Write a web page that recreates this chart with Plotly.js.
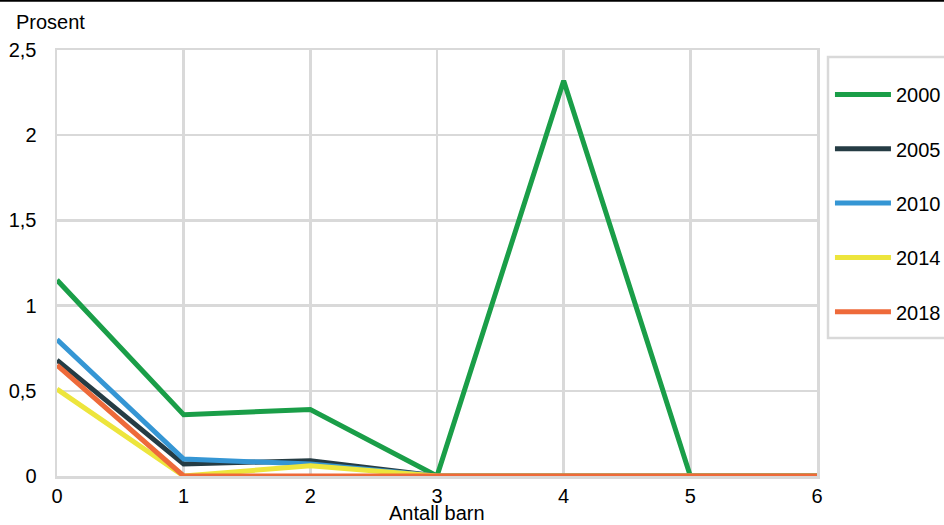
<!DOCTYPE html>
<html>
<head>
<meta charset="utf-8">
<script src="https://cdn.plot.ly/plotly-3.0.1.min.js"></script>
<style>html,body{margin:0;padding:0;background:#fff;}#chart{width:944px;height:525px;}</style>
</head>
<body>
<div id="chart"></div>
<script>
const antallBarn = [0, 1, 2, 3, 4, 5, 6];
const seriesNames = ['2000', '2005', '2010', '2014', '2018'];
const v2000 = [1.15, 0.36, 0.39, 0, 2.32, 0, 0];
const v2005 = [0.68, 0.07, 0.09, 0, 0, 0, 0];
const v2010 = [0.80, 0.10, 0.07, 0, 0, 0, 0];
const v2014 = [0.51, 0, 0.06, 0, 0, 0, 0];
const v2018 = [0.65, 0, 0, 0, 0, 0, 0];
const yTickVals = [0, 0.5, 1, 1.5, 2, 2.5];
const yTickText = ['0', '0,5', '1', '1,5', '2', '2,5'];

const colors = ['#1a9e48', '#253c44', '#3596d4', '#ede53c', '#ee6a3a'];
const values = [v2000, v2005, v2010, v2014, v2018];

const traces = values.map((v, i) => ({
  x: antallBarn, y: v, name: seriesNames[i], type: 'scatter', mode: 'lines',
  line: {color: colors[i], width: 5}, cliponaxis: false, legendgroup: 'g' + i
}));

const layout = {
  width: 944, height: 525,
  margin: {l: 57, r: 127, t: 50, b: 49},
  paper_bgcolor: '#fff', plot_bgcolor: '#fff',
  font: {family: 'Liberation Sans, Arial, sans-serif', size: 20, color: '#000'},
  separators: ',.',
  xaxis: {
    range: [0, 6], tickvals: antallBarn, showgrid: true, gridcolor: '#d9d9d9', gridwidth: 2.5,
    zeroline: false, showline: true, linecolor: '#d9d9d9', linewidth: 2.5, mirror: true,
    ticks: '', tickfont: {size: 20}, ticklabelstandoff: 0
  },
  yaxis: {
    range: [0, 2.5], tickvals: yTickVals, ticktext: yTickText, showgrid: true,
    gridcolor: '#d9d9d9', gridwidth: 2.5, zeroline: false, showline: true,
    linecolor: '#d9d9d9', linewidth: 2.5, mirror: true, ticks: '', tickfont: {size: 20},
    ticklabelstandoff: 14
  },
  legend: {
    xref: 'container', yref: 'container',
    x: 0.8792, xanchor: 'left', y: 0.8571, yanchor: 'top',
    borderwidth: 0, bgcolor: 'rgba(0,0,0,0)',
    font: {size: 20}, itemwidth: 56, tracegroupgap: 25.3, traceorder: 'grouped'
  },
  showlegend: true,
  annotations: [
    {text: 'Prosent', xref: 'paper', yref: 'paper', x: -0.0566, y: 1.066,
     xanchor: 'left', yanchor: 'middle', showarrow: false, font: {size: 20}},
    {text: 'Antall barn', xref: 'paper', yref: 'paper', x: 0.5, y: (476 - 513) / 426,
     xanchor: 'center', yanchor: 'middle', showarrow: false, font: {size: 20}}
  ],
  shapes: [
    {type: 'line', xref: 'paper', yref: 'paper', x0: -0.08, x1: 1.17, y0: 1.1155, y1: 1.1155,
     line: {color: '#000', width: 2}},
    {type: 'rect', xref: 'paper', yref: 'paper',
     x0: (828 - 57) / 760, x1: (948 - 57) / 760, y0: (476 - 338) / 426, y1: (476 - 57) / 426,
     line: {color: '#d9d9d9', width: 2.5}, fillcolor: 'rgba(0,0,0,0)'}
  ]
};

Plotly.newPlot('chart', traces, layout, {displayModeBar: false, staticPlot: true});
</script>
</body>
</html>
